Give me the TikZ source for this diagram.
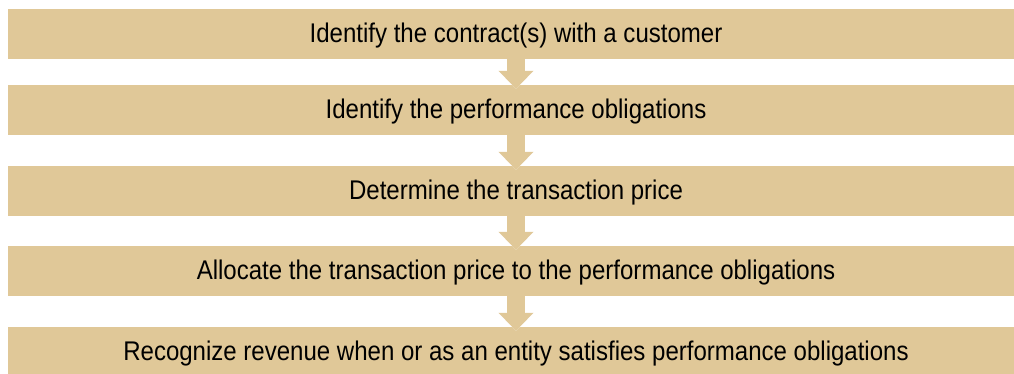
\documentclass[tikz,border=0pt]{standalone}
\usepackage{fontspec}
\setmainfont{Liberation Sans}[FakeStretch=0.89]
\usetikzlibrary{arrows.meta}

\definecolor{boxtan}{RGB}{224,200,152}

\begin{document}
\begin{tikzpicture}[
    x = 1pt, y = -1pt,
    stepbox/.style = {rectangle,
      fill = boxtan,
      minimum width = 1016pt, minimum height = 50pt,
      text height = 19.3pt, text depth = 3pt,
      font = \fontsize{27}{30}\selectfont},
    flow/.style = {line width = 18pt, draw = boxtan,
      -{Triangle[width = 34pt, length = 18pt]},
      shorten > = -4pt,
      preaction = {draw = white, line width = 20pt,
        -{Triangle[width = 38pt, length = 21pt]}, shorten > = -4pt}}
    ]

    \clip (0, 0) rectangle (1014, 374);

    \node at (516, 34) [stepbox, name = contract] {Identify the contract(s) with a customer};
    \node at (516, 110) [stepbox, name = obligations] {Identify the performance obligations};
    \node at (516, 191) [stepbox, name = price] {Determine the transaction price};
    \node at (516, 271) [stepbox, name = allocate] {Allocate the transaction price to the performance obligations};
    \node at (516, 352) [stepbox, name = recognize] {Recognize revenue when or as an entity satisfies performance obligations};

    \draw [flow] (contract.south) -- (obligations.north);
    \draw [flow] (obligations.south) -- (price.north);
    \draw [flow] (price.south) -- (allocate.north);
    \draw [flow] (allocate.south) -- (recognize.north);

  \end{tikzpicture}
\end{document}
